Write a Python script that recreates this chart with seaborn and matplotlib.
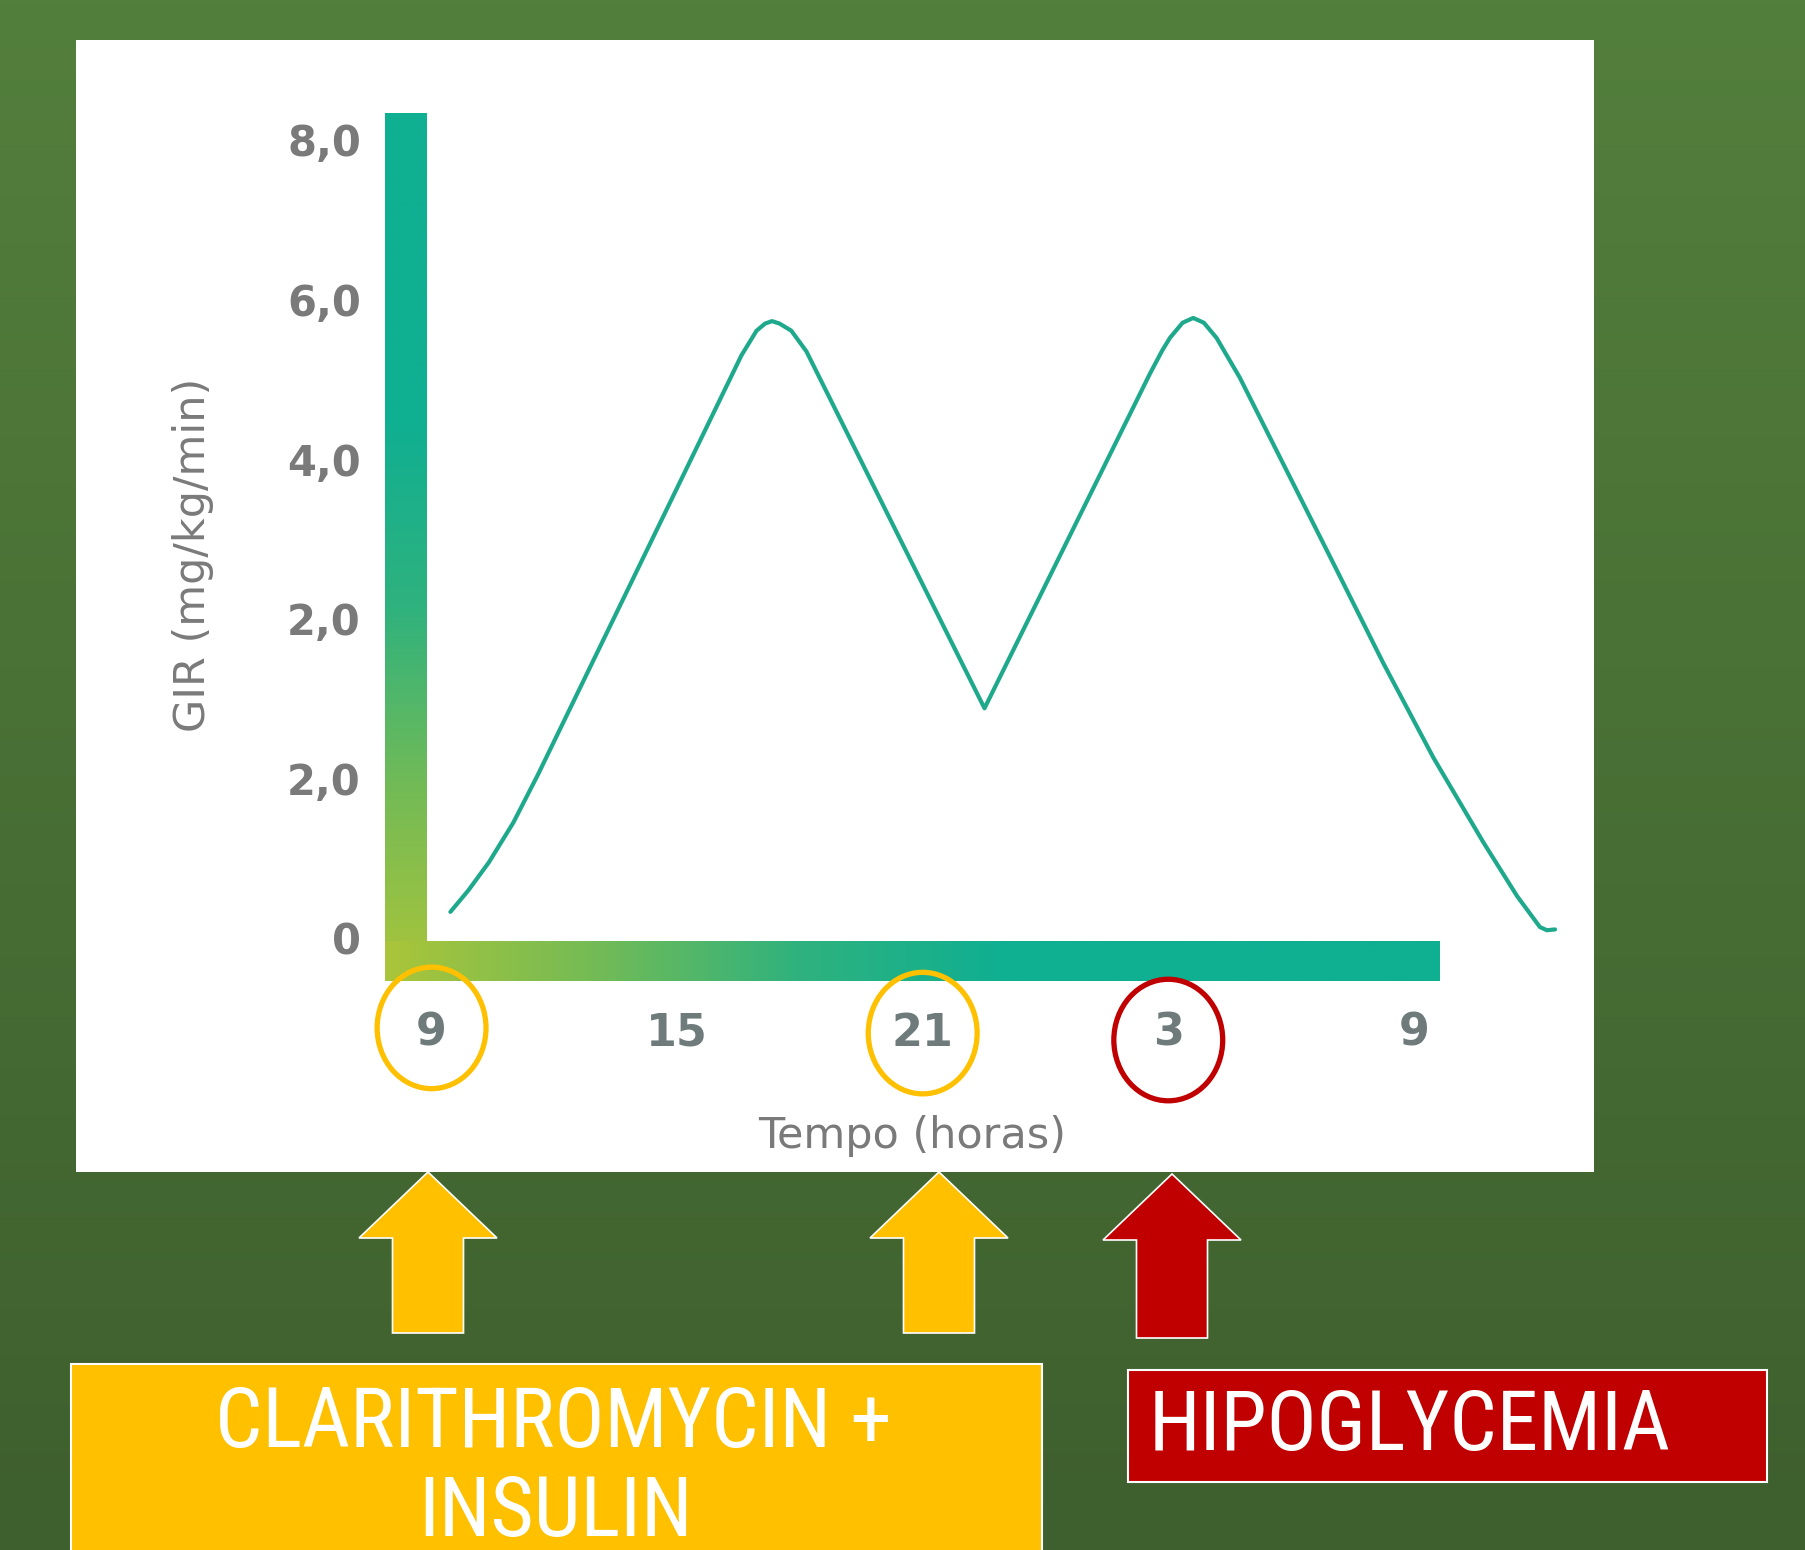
import matplotlib
matplotlib.use("Agg")
import matplotlib.pyplot as plt
import numpy as np
import pandas as pd
import seaborn as sns
from matplotlib import font_manager
from matplotlib.font_manager import FontProperties
from matplotlib.colors import LinearSegmentedColormap
from matplotlib.patches import Rectangle, Ellipse, FancyArrow

# data (hours since 9h, GIR in axis units)
hours = [0.46, 0.9, 1.4, 2.0, 2.6, 7.57, 7.94, 8.15, 8.32, 8.5, 8.79, 9.16, 13.51,
         17.55, 17.85, 18.04, 18.35, 18.61, 18.87, 19.18, 19.75, 22.03, 23.26, 24.48, 25.7,
         26.52, 27.08, 27.25, 27.45]
gir = [0.33, 0.60, 0.95, 1.45, 2.05, 7.30, 7.61, 7.70, 7.73, 7.70, 7.61, 7.35, 2.88,
       7.07, 7.36, 7.52, 7.71, 7.77, 7.71, 7.52, 7.02, 4.70, 3.44, 2.26, 1.20,
       0.53, 0.14, 0.10, 0.11]
xtick_pos = [0, 6, 12, 18, 24]
xtick_labels = ['9', '15', '21', '3', '9']
ytick_pos = [0, 2, 4, 6, 8, 10]
ytick_labels = ['0', '2,0', '2,0', '4,0', '6,0', '8,0']
circled_yellow = [0, 12]
circled_red = [18]

df = pd.DataFrame({'hours': hours, 'gir': gir})

sns.set_theme(style='white')
plt.rcParams['font.family'] = ['DejaVu Sans']


def narrow_font():
    fonts = font_manager.fontManager.ttflist
    for want in ['Liberation Sans Narrow', 'Roboto Condensed', 'Noto Sans Condensed',
                 'Open Sans Condensed', 'DejaVu Sans Condensed']:
        for f in fonts:
            if f.name == want and f.style == 'normal' and f.weight in (400, 'normal', 'regular'):
                return FontProperties(fname=f.fname)
    for f in fonts:
        if (f.stretch in ('condensed', 'semi-condensed') or 'Condensed' in f.name or 'Narrow' in f.name) \
                and f.style == 'normal' and f.weight in (400, 'normal', 'regular'):
            return FontProperties(fname=f.fname)
    return FontProperties(family='DejaVu Sans')


box_fp = narrow_font()

W, H = 1805, 1550
fig = plt.figure(figsize=(W / 100, H / 100), dpi=100)

# slide background (pixel coordinates, y down)
bg = fig.add_axes([0, 0, 1, 1], zorder=0)
bg.set_xlim(0, W)
bg.set_ylim(H, 0)
bg.axis('off')
bg_cmap = LinearSegmentedColormap.from_list('bg', ['#537f3c', '#3e5f2e'])
bg.imshow(np.linspace(0, 1, 256).reshape(-1, 1), cmap=bg_cmap, aspect='auto',
          extent=(0, W, H, 0), origin='upper', zorder=0)
bg.add_patch(Rectangle((76, 40), 1518, 1132, facecolor='white', edgecolor='none', zorder=1))

# arrows
yellow, red = '#ffc000', '#c00000'
for cx, col, tip, base in [(428, yellow, 1172, 1333), (939, yellow, 1172, 1333), (1172, red, 1174, 1338)]:
    bg.add_patch(FancyArrow(cx, base, 0, tip - base, width=71, head_width=138, head_length=66,
                            length_includes_head=True, facecolor=col, edgecolor='white',
                            linewidth=1.2, zorder=2))

# boxes
bg.add_patch(Rectangle((71, 1364), 971, 200, facecolor=yellow, edgecolor='white', linewidth=1.5, zorder=2))
bg.add_patch(Rectangle((1128, 1370), 639, 112, facecolor=red, edgecolor='white', linewidth=1.5, zorder=2))
t1 = bg.text(553, 1424, 'CLARITHROMYCIN +', color='white', fontproperties=box_fp,
             ha='center', va='center', zorder=3)
t2 = bg.text(556, 1513, 'INSULIN', color='white', fontproperties=box_fp,
             ha='center', va='center', zorder=3)
t3 = bg.text(1149, 1427, 'HIPOGLYCEMIA', color='white', fontproperties=box_fp,
             ha='left', va='center', zorder=3)
for t in (t1, t2, t3):
    t.set_fontsize(57)
# fit the box text to the width it takes on the slide
renderer = fig.canvas.get_renderer()
w1 = t1.get_window_extent(renderer).width
size = min(60, 57 * 687 / w1)
for t in (t1, t2, t3):
    t.set_fontsize(size)

# chart
ax = fig.add_axes([384.5 / W, 1 - 981 / H, 1195.5 / W, 868.2 / H], zorder=1)
ax.patch.set_alpha(0)
xmin, xmax = -1.15, 28.06
ymin, ymax = -0.536, 10.34

grad = LinearSegmentedColormap.from_list('axisgrad', ['#aac53a', '#74bb55', '#2fb27e', '#0faf92'])
# vertical axis bar
yy = np.linspace(ymin, ymax, 300)
vv = np.clip((yy - ymin) / (6.5 - ymin), 0, 1).reshape(-1, 1)
ax.imshow(vv, cmap=grad, vmin=0, vmax=1, aspect='auto', origin='lower',
          extent=(xmin, xmin + 1.01, ymin, ymax), interpolation='bilinear', zorder=1)
# horizontal axis bar
xx = np.linspace(xmin, 24.62, 400)
hv = np.clip((xx - xmin) / (14.0 - xmin), 0, 1).reshape(1, -1)
ax.imshow(hv, cmap=grad, vmin=0, vmax=1, aspect='auto', origin='lower',
          extent=(xmin, 24.62, ymin, ymin + 0.49), interpolation='bilinear', zorder=1)

sns.lineplot(data=df, x='hours', y='gir', ax=ax, color='#1fa98c', linewidth=3.0, zorder=3)
ax.lines[-1].set_solid_joinstyle('round')
ax.lines[-1].set_solid_capstyle('round')

ax.set_xlim(xmin, xmax)
ax.set_ylim(ymin, ymax)
ax.set_xticks(xtick_pos)
ax.set_xticklabels(xtick_labels, fontsize=32, fontweight='bold', color='#6f7b7b')
ax.set_yticks(ytick_pos)
ax.set_yticklabels(ytick_labels, fontsize=30, fontweight='bold', color='#7a7a7a')
ax.tick_params(axis='x', length=0, pad=22)
ax.tick_params(axis='y', length=0, pad=17)
for s in ax.spines.values():
    s.set_visible(False)
ax.grid(False)

ax.set_xlabel('Tempo (horas)', fontsize=31, color='#7a7a7a')
ax.xaxis.set_label_coords(0.441, -0.1785)
ax.xaxis.label.set_va('center')
ax.set_ylabel('GIR (mg/kg/min)', fontsize=31, color='#7a7a7a')
ax.yaxis.set_label_coords(-0.160, 0.491)
ax.yaxis.label.set_va('center')

# circles round the marked hours
trans = ax.get_xaxis_transform()
for t, col, cy in [(circled_yellow[0], yellow, -0.054), (circled_yellow[1], yellow, -0.060),
                   (circled_red[0], red, -0.068)]:
    ax.add_patch(Ellipse((t, cy), 2.66, 0.140, transform=trans, fill=False,
                         edgecolor=col, linewidth=3.8, clip_on=False, zorder=4))

fig.savefig('out.png', dpi=100)
